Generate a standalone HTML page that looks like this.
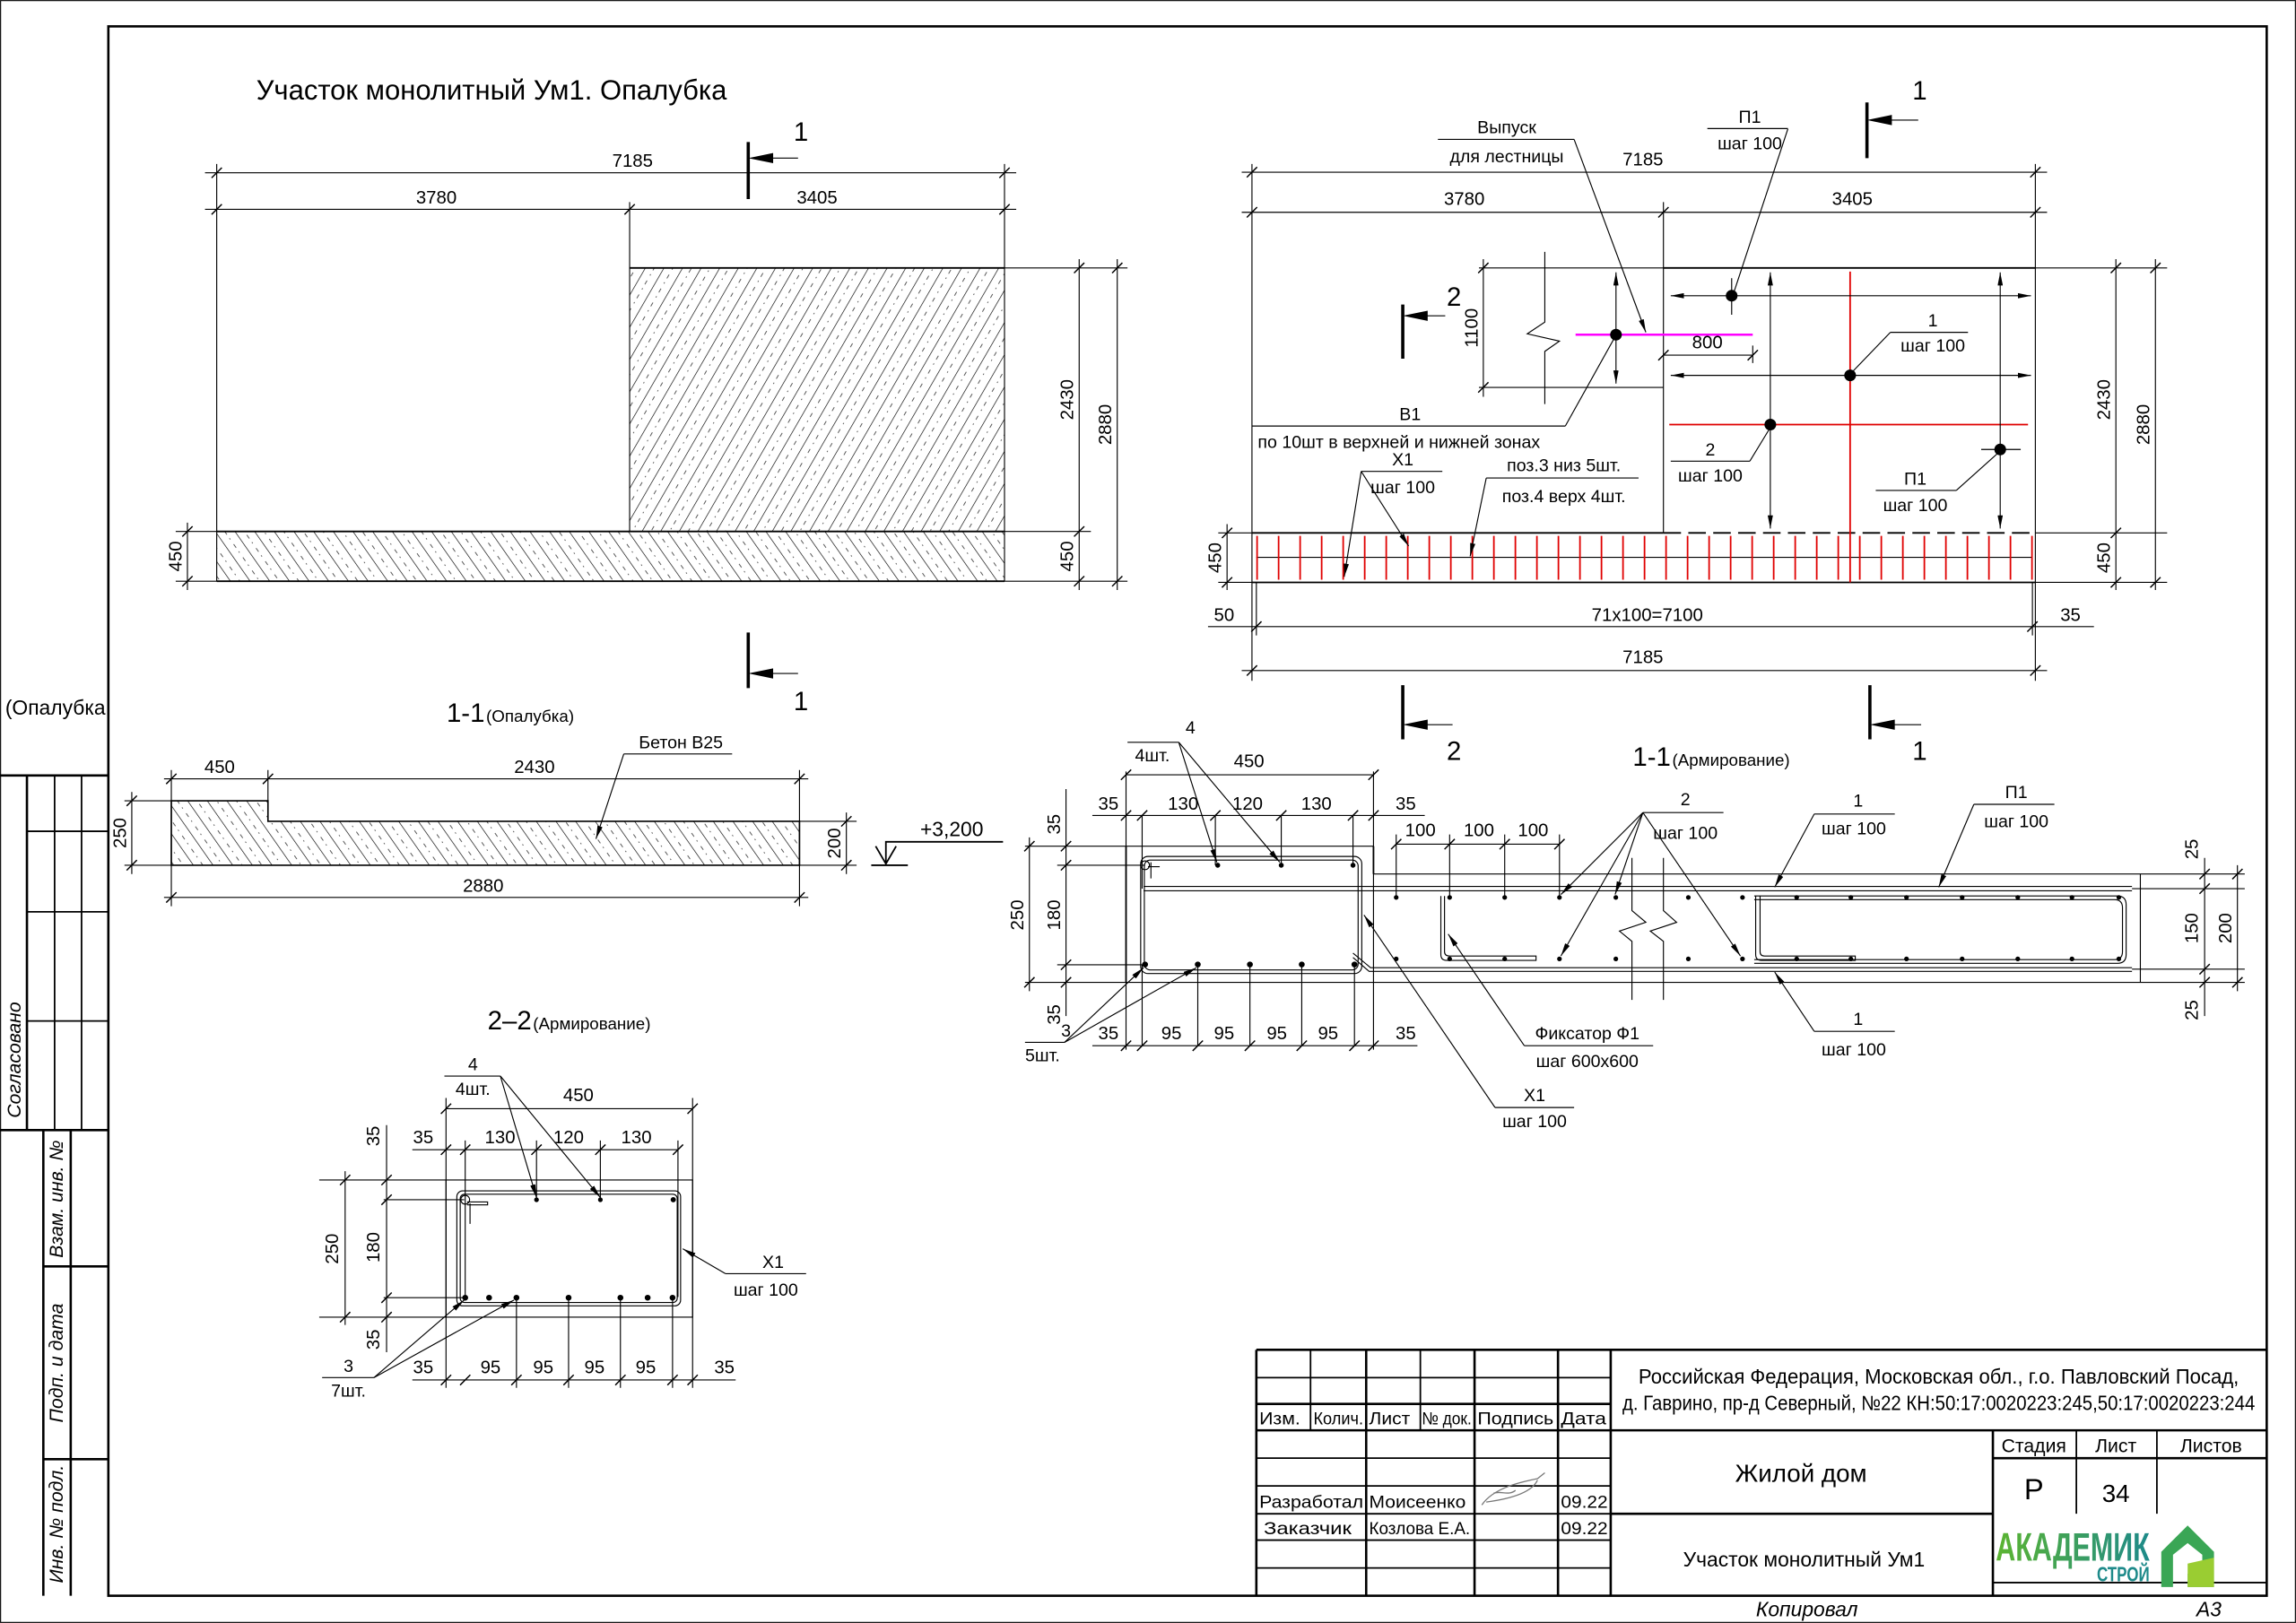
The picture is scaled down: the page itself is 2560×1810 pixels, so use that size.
<!DOCTYPE html>
<html><head><meta charset="utf-8"><style>
html,body{margin:0;padding:0;background:#fff}
svg{display:block}
text{font-family:"Liberation Sans Narrow","Liberation Sans",sans-serif;fill:#000}
.t{stroke:#000;stroke-width:0.7;fill:none}
.k{stroke:#000;stroke-width:1.6;fill:none}
.m{stroke:#000;stroke-width:1.1;fill:none}
.r{stroke:#e00000;stroke-width:1.1;fill:none}
.d{font-size:12.5px}
.s{font-size:12px}
</style></head><body>
<svg width="2560" height="1810" viewBox="0 0 1568 1108.6" xmlns="http://www.w3.org/2000/svg">
<defs>
<path id="tk" d="M-3.5,3.5L3.5,-3.5" stroke="#000" stroke-width="0.9"/>
<marker id="ar" viewBox="0 0 10 4" refX="10" refY="2" markerWidth="9" markerHeight="3.6" markerUnits="userSpaceOnUse" orient="auto"><path d="M0,0L10,2L0,4z" fill="#000"/></marker>
<pattern id="hA" patternUnits="userSpaceOnUse" width="11" height="11" patternTransform="rotate(30)"><path d="M0,0V11" stroke="#000" stroke-width="0.8"/><path d="M5.5,0V3M5.5,6V7" stroke="#000" stroke-width="0.4"/></pattern>
<pattern id="hB" patternUnits="userSpaceOnUse" width="11" height="11" patternTransform="rotate(-35)"><path d="M0,0V11" stroke="#000" stroke-width="0.8"/><path d="M5.5,0V3M5.5,6V7" stroke="#000" stroke-width="0.4"/></pattern>
<linearGradient id="lg" x1="0" x2="1"><stop offset="0" stop-color="#5cb531"/><stop offset="1" stop-color="#1e8a8a"/></linearGradient>
</defs>

<!-- frames -->
<rect x="0.4" y="0.4" width="1567.2" height="1107.8" class="t"/>
<rect x="74" y="18" width="1474" height="1072" class="k"/>

<!-- left stamps -->
<g>
<path class="k" d="M0,529.7H74M18.4,529.7V771.9M0,771.9H74M29.6,771.9V1090M48.3,771.9V1090M29.6,865H74M29.6,996.7H74"/>
<path class="m" d="M37.3,529.7V771.9M55.7,529.7V771.9M18.4,567.8H74M18.4,622.8H74M18.4,697.4H74"/>
<text x="72" y="488" font-size="14" text-anchor="end">1-1 (Опалубка</text>
<text transform="translate(14,724) rotate(-90)" text-anchor="middle" font-size="13" font-style="italic">Согласовано</text>
<text transform="translate(43,819) rotate(-90)" text-anchor="middle" font-size="13" font-style="italic">Взам. инв. №</text>
<text transform="translate(43,931) rotate(-90)" text-anchor="middle" font-size="13" font-style="italic">Подп. и дата</text>
<text transform="translate(43,1041) rotate(-90)" text-anchor="middle" font-size="13" font-style="italic">Инв. № подл.</text>
</g>

<!-- ===== left plan ===== -->
<text x="175" y="68" font-size="19">Участок монолитный Ум1. Опалубка</text>
<rect x="430" y="183" width="256" height="180" fill="url(#hA)"/>
<rect x="148" y="363" width="538" height="34" fill="url(#hB)"/>
<path class="t" d="M140,118H694M140,143H694M148,112V397M686,112V397M430,138V363M686,183H770M120,397H770M120,363H745M737,177V403M763,177V403M128,357V403"/>
<path class="m" d="M430,183H686M148,363H686M148,397H686"/>
<g>
<use href="#tk" x="148" y="118"/><use href="#tk" x="686" y="118"/>
<use href="#tk" x="148" y="143"/><use href="#tk" x="430" y="143"/><use href="#tk" x="686" y="143"/>
<use href="#tk" x="737" y="183"/><use href="#tk" x="737" y="363"/><use href="#tk" x="737" y="397"/>
<use href="#tk" x="763" y="183"/><use href="#tk" x="763" y="397"/>
<use href="#tk" x="128" y="363"/><use href="#tk" x="128" y="397"/>
</g>
<g class="d" text-anchor="middle">
<text x="432" y="114">7185</text><text x="298" y="139">3780</text><text x="558" y="139">3405</text>
</g>
<g class="d" text-anchor="middle">
<text transform="translate(733,273) rotate(-90)">2430</text>
<text transform="translate(759,290) rotate(-90)">2880</text>
<text transform="translate(733,380) rotate(-90)">450</text>
<text transform="translate(124,380) rotate(-90)">450</text>
</g>
<path d="M511,97V136M511,432V470" stroke="#000" stroke-width="2.2"/>
<path class="t" d="M526,108H545M526,460H545"/>
<path d="M511,108L528,104.5L528,111.5zM511,460L528,456.5L528,463.5z"/>
<text x="542" y="96" font-size="18">1</text><text x="542" y="485" font-size="18">1</text>

<!-- ===== section 1-1 opalubka ===== -->
<text x="305" y="493" font-size="18">1-1</text><text x="332" y="493" font-size="11.5">(Опалубка)</text>
<path d="M117,547H183V561H546V591H117Z" fill="url(#hB)" stroke="#000" stroke-width="1"/>
<path class="t" d="M85,547H117M85,591H117M112,532H552M112,613H552M117,526V619M183,526V547M546,526V619M546,561H585M546,591H585M90,541V597M578,555V597"/>
<g>
<use href="#tk" x="117" y="532"/><use href="#tk" x="183" y="532"/><use href="#tk" x="546" y="532"/>
<use href="#tk" x="117" y="613"/><use href="#tk" x="546" y="613"/>
<use href="#tk" x="90" y="547"/><use href="#tk" x="90" y="591"/>
<use href="#tk" x="578" y="561"/><use href="#tk" x="578" y="591"/>
</g>
<g class="d" text-anchor="middle">
<text x="150" y="528">450</text><text x="365" y="528">2430</text><text x="330" y="609">2880</text>
<text transform="translate(86,569) rotate(-90)">250</text>
<text transform="translate(574,576) rotate(-90)">200</text>
</g>
<path class="m" d="M595,591H620M598,578L605,590L612,578M605,590V575H685"/>
<text x="650" y="571" font-size="14" text-anchor="middle">+3,200</text>
<path class="t" d="M426,515H500"/><path class="t" d="M426,515L407,573" marker-end="url(#ar)"/>
<text x="465" y="511" class="s" text-anchor="middle">Бетон В25</text>

<!-- ===== section 2-2 ===== -->
<text x="333" y="703" font-size="18">2–2</text><text x="364" y="703" font-size="11.5">(Армирование)</text>
<rect x="304.6" y="806" width="168.4" height="93.7" class="t"/>
<rect x="312" y="813.4" width="152.8" height="78.6" rx="4" class="t"/>
<rect x="314.3" y="815.7" width="148.2" height="74" rx="3" class="t"/>
<g>
<circle cx="317.7" cy="819.5" r="3" class="t"/><path class="t" d="M319,821H333V823H319M321,822V836"/>
<circle cx="366.4" cy="819.5" r="1.6"/><circle cx="410" cy="819.5" r="1.6"/><circle cx="459.8" cy="819.5" r="1.8"/>
<circle cx="317.7" cy="886.4" r="2"/><circle cx="334" cy="886.4" r="2"/><circle cx="352.7" cy="886.4" r="2"/><circle cx="388.3" cy="886.4" r="2"/><circle cx="423.7" cy="886.4" r="2"/><circle cx="442.3" cy="886.4" r="2"/><circle cx="459.3" cy="886.4" r="2"/>
</g>
<path class="t" d="M304.6,757.3H473M304.6,750V948M473,750V948M281.6,785.3H463M281.6,942.6H502.4M317.7,779V886M366.4,779V819M410,779V819M463,779V886M352.7,886V948M388.3,886V948M423.7,886V948M459.3,886V948M218,806H304.6M218,899.7H304.6M262,819.5H317M262,886.4H317M235.7,800V905M264,768.5V923.6"/>
<g>
<use href="#tk" x="304.6" y="757.3"/><use href="#tk" x="473" y="757.3"/>
<use href="#tk" x="304.6" y="785.3"/><use href="#tk" x="317.7" y="785.3"/><use href="#tk" x="366.4" y="785.3"/><use href="#tk" x="410" y="785.3"/><use href="#tk" x="463" y="785.3"/>
<use href="#tk" x="304.6" y="942.6"/><use href="#tk" x="317.7" y="942.6"/><use href="#tk" x="352.7" y="942.6"/><use href="#tk" x="388.3" y="942.6"/><use href="#tk" x="423.7" y="942.6"/><use href="#tk" x="459.3" y="942.6"/><use href="#tk" x="473" y="942.6"/>
<use href="#tk" x="235.7" y="806"/><use href="#tk" x="235.7" y="899.7"/>
<use href="#tk" x="264" y="806"/><use href="#tk" x="264" y="819.5"/><use href="#tk" x="264" y="886.4"/><use href="#tk" x="264" y="899.7"/>
</g>
<g class="d" text-anchor="middle">
<text x="395" y="752">450</text>
<text x="289" y="781">35</text><text x="341.5" y="781">130</text><text x="388.3" y="781">120</text><text x="434.6" y="781">130</text>
<text x="289" y="938">35</text><text x="335" y="938">95</text><text x="371" y="938">95</text><text x="406" y="938">95</text><text x="441" y="938">95</text><text x="494.7" y="938">35</text>
<text transform="translate(231,853) rotate(-90)">250</text>
<text transform="translate(259,776) rotate(-90)">35</text>
<text transform="translate(259,852) rotate(-90)">180</text>
<text transform="translate(259,915) rotate(-90)">35</text>
</g>
<path class="t" d="M303.5,735H341.7M220,941H255.4M495.4,870H550.5"/>
<path class="t" d="M341.7,735L366.4,818" marker-end="url(#ar)"/>
<path class="t" d="M341.7,735L410,818" marker-end="url(#ar)"/>
<path class="t" d="M255.4,941L317,888" marker-end="url(#ar)"/>
<path class="t" d="M255.4,941L351,888" marker-end="url(#ar)"/>
<path class="t" d="M495.4,870L466.3,853" marker-end="url(#ar)"/>
<g class="s" text-anchor="middle">
<text x="323" y="731">4</text><text x="323" y="748">4шт.</text>
<text x="238" y="937">3</text><text x="238" y="954">7шт.</text>
<text x="528" y="866">Х1</text><text x="523" y="885">шаг 100</text>
</g>

<!-- ===== right plan (reinforcement) ===== -->
<path class="t" d="M848,117.6H1398M848,145H1398M855,112V465M1390,112V465M1136,138V364M1010,183H1480M1010,264.6H1136M1390,364H1480M1390,397.8H1480M832,364H855M832,397.8H855M1013,177V271M1445,177V403M1472,177V403M838,358V403M858,397.8V434M1388,397.8V434M825,428H1430M848,458H1398"/>
<path class="m" d="M855,364H1136M855,397.8H1390M1136,183H1390"/>
<path class="m" d="M1136,364H1390" stroke-dasharray="12,5"/>
<path class="t" d="M858,380.7H1388" stroke-width="1"/>
<g>
<use href="#tk" x="855" y="117.6"/><use href="#tk" x="1390" y="117.6"/>
<use href="#tk" x="855" y="145"/><use href="#tk" x="1136" y="145"/><use href="#tk" x="1390" y="145"/>
<use href="#tk" x="1013" y="183"/><use href="#tk" x="1013" y="264.6"/>
<use href="#tk" x="1445" y="183"/><use href="#tk" x="1445" y="364"/><use href="#tk" x="1445" y="397.8"/>
<use href="#tk" x="1472" y="183"/><use href="#tk" x="1472" y="397.8"/>
<use href="#tk" x="838" y="364"/><use href="#tk" x="838" y="397.8"/>
<use href="#tk" x="858" y="428"/><use href="#tk" x="1388" y="428"/>
<use href="#tk" x="855" y="458"/><use href="#tk" x="1390" y="458"/>
<use href="#tk" x="1136" y="242.6"/><use href="#tk" x="1197" y="242.6"/>
</g>
<g class="d" text-anchor="middle">
<text x="1122" y="113">7185</text><text x="1000" y="140">3780</text><text x="1265" y="140">3405</text>
<text transform="translate(1009,224) rotate(-90)">1100</text>
<text transform="translate(1441,273) rotate(-90)">2430</text>
<text transform="translate(1468,290) rotate(-90)">2880</text>
<text transform="translate(1441,381) rotate(-90)">450</text>
<text transform="translate(834,381) rotate(-90)">450</text>
<text x="1125" y="424">71x100=7100</text><text x="836" y="424">50</text><text x="1414" y="424">35</text>
<text x="1122" y="453">7185</text>
<text x="1166" y="238">800</text>
</g>
<path class="t" d="M1136,242.6H1197"/>
<!-- red bars in strip -->
<g class="r">
<path d="M858.5,366V396M873.2,366V396M887.9,366V396M902.6,366V396M917.3,366V396M932,366V396M946.7,366V396M961.4,366V396M976.1,366V396M990.8,366V396M1005.5,366V396M1020.2,366V396M1034.9,366V396M1049.6,366V396M1064.3,366V396M1079,366V396M1093.7,366V396M1108.4,366V396M1123.1,366V396M1137.8,366V396M1152.5,366V396M1167.2,366V396M1181.9,366V396M1196.6,366V396M1211.3,366V396M1226,366V396M1240.7,366V396M1255.4,366V396M1270.1,366V396M1284.8,366V396M1299.5,366V396M1314.2,366V396M1328.9,366V396M1343.6,366V396M1358.3,366V396M1373,366V396M1387.7,366V396"/>
<path d="M1263.5,185.5V397.8M1140,290H1385"/>
</g>
<path d="M1076,228.6H1197" stroke="#ff00ff" stroke-width="1.6"/>
<path class="t" d="M1055,172V220L1043,228L1065,233L1055,240V276"/>
<g class="t">
<path d="M1103.6,228V186" marker-end="url(#ar)"/><path d="M1103.6,228V262" marker-end="url(#ar)"/>
<path d="M1182,202H1141" marker-end="url(#ar)"/><path d="M1182,202H1387" marker-end="url(#ar)"/>
<path d="M1263,256.4H1141" marker-end="url(#ar)"/><path d="M1263,256.4H1387" marker-end="url(#ar)"/>
<path d="M1209,290V186" marker-end="url(#ar)"/><path d="M1209,290V361" marker-end="url(#ar)"/>
<path d="M1366,307V186" marker-end="url(#ar)"/><path d="M1366,307V361" marker-end="url(#ar)"/>
<path d="M1182.6,190V215M1353,307H1380M1197,236V248"/>
</g>
<g><circle cx="1103.6" cy="228.6" r="4"/><circle cx="1182.6" cy="202" r="4"/><circle cx="1263.5" cy="256.4" r="4"/><circle cx="1209" cy="290" r="4"/><circle cx="1366" cy="307" r="4"/></g>
<path d="M958,208V245M1275,70V108M958,468V505M1277,468V505" stroke="#000" stroke-width="2.2"/>
<path class="t" d="M973,215.7H987M1290,82H1310M973,495H992M1292,495H1312"/>
<path d="M958,215.7L975,212.2L975,219.2zM1275,82L1292,78.5L1292,85.5zM958,495L975,491.5L975,498.5zM1277,495L1294,491.5L1294,498.5z"/>
<text x="988" y="209" font-size="18">2</text><text x="1306" y="68" font-size="18">1</text>
<text x="988" y="519" font-size="18">2</text><text x="1306" y="519" font-size="18">1</text>
<!-- leaders right plan -->
<path class="t" d="M982,95.2H1075M1166,87.8H1221M1291,227H1344M1141,315H1195M1281,335H1336M855,291H1069M929.6,322H985M1015,326.5H1119"/>
<path class="t" d="M1075,95.2L1124,227" marker-end="url(#ar)"/>
<path class="t" d="M1221,88L1184,200"/>
<path class="t" d="M1291,227L1265,254"/>
<path class="t" d="M1195,315L1209,292"/>
<path class="t" d="M1336,335L1365,309"/>
<path class="t" d="M1069,291L1103,230"/>
<path class="t" d="M929.6,322L918,394" marker-end="url(#ar)"/>
<path class="t" d="M929.6,322L962,373" marker-end="url(#ar)"/>
<path class="t" d="M1015,326.5L1004,380" marker-end="url(#ar)"/>
<g class="s" text-anchor="middle">
<text x="1029" y="91">Выпуск</text><text x="1029" y="111">для лестницы</text>
<text x="1195" y="84">П1</text><text x="1195" y="102">шаг 100</text>
<text x="1320" y="223">1</text><text x="1320" y="240">шаг 100</text>
<text x="1168" y="311">2</text><text x="1168" y="329">шаг 100</text>
<text x="1308" y="331">П1</text><text x="1308" y="349">шаг 100</text>
<text x="963" y="287">В1</text>
<text x="958" y="318">Х1</text><text x="958" y="337">шаг 100</text>
<text x="1068" y="322">поз.3 низ 5шт.</text><text x="1068" y="343">поз.4 верх 4шт.</text>
</g>
<text x="859" y="306" class="s">по 10шт в верхней и нижней зонах</text>

<!-- ===== section 1-1 armirovanie ===== -->
<text x="1115" y="523" font-size="18">1-1</text><text x="1142" y="523" font-size="11.5">(Армирование)</text>
<path class="t" d="M700,578H938M700,671H1533M938,597H1533M938,578V597M1461.7,597V671M769,527V717M938,527V717M722,591H782M722,659H782M1456,607H1533M1456,662H1533"/>
<path class="m" d="M769,578V671M938,578V597"/>
<rect x="779" y="585" width="151" height="80" rx="5" class="t"/>
<rect x="781.5" y="587.5" width="146" height="75" rx="4" class="t"/>
<path class="t" d="M781,605.5H1456M781,608.5H1456"/>
<path class="t" d="M1198,612H1446Q1452,612 1452,618V652Q1452,658 1446,658H1198M1198,614.5H1444Q1449.5,614.5 1449.5,620V650Q1449.5,655.5 1444,655.5H1198"/>
<path class="t" d="M924,651L936,661H1456M924,654L935,663.5H1456"/>
<path class="t" d="M986.5,612V650Q986.5,653 990,653H1049V656H988Q984,656 984,652V612M1202,612V650Q1202,653 1205,653H1267V656H1203Q1199,656 1199,652V612"/>
<path class="t" d="M1114.5,586V622L1124,630L1106,636L1114.5,643V683M1136,586V622L1145,630L1127,636L1136,643V683"/>
<g>
<circle cx="953.5" cy="613" r="1.6"/><circle cx="990" cy="613" r="1.6"/><circle cx="1027.6" cy="613" r="1.6"/><circle cx="1065" cy="613" r="1.6"/><circle cx="1103.5" cy="613" r="1.6"/><circle cx="1153" cy="613" r="1.6"/><circle cx="1190" cy="613" r="1.6"/><circle cx="1227" cy="613" r="1.6"/><circle cx="1264" cy="613" r="1.6"/><circle cx="1302" cy="613" r="1.6"/><circle cx="1340" cy="613" r="1.6"/><circle cx="1378" cy="613" r="1.6"/><circle cx="1415" cy="613" r="1.6"/><circle cx="1447" cy="613" r="1.6"/>
<circle cx="953.5" cy="655" r="1.6"/><circle cx="990" cy="655" r="1.6"/><circle cx="1027.6" cy="655" r="1.6"/><circle cx="1065" cy="655" r="1.6"/><circle cx="1103.5" cy="655" r="1.6"/><circle cx="1153" cy="655" r="1.6"/><circle cx="1190" cy="655" r="1.6"/><circle cx="1227" cy="655" r="1.6"/><circle cx="1264" cy="655" r="1.6"/><circle cx="1302" cy="655" r="1.6"/><circle cx="1340" cy="655" r="1.6"/><circle cx="1378" cy="655" r="1.6"/><circle cx="1415" cy="655" r="1.6"/><circle cx="1447" cy="655" r="1.6"/>
<circle cx="782" cy="591" r="3" class="t"/><path class="t" d="M784,592H792M786,589V600"/>
<circle cx="831.6" cy="591" r="1.7"/><circle cx="875" cy="591" r="1.7"/><circle cx="924" cy="591" r="1.7"/>
<circle cx="782" cy="658.8" r="2"/><circle cx="818" cy="658.8" r="2"/><circle cx="853.6" cy="658.8" r="2"/><circle cx="889" cy="658.8" r="2"/><circle cx="925" cy="658.8" r="2"/>
</g>
<path class="t" d="M769,529.2H938M746,557H973M953.5,576.6H1065M746,714.3H968M780,557V607M830,557V591M875,557V591M924,557V591M953.5,570V613M990,570V613M1027.6,570V613M1065,570V613M780,659V714M818,659V714M853.6,659V714M889,659V714M925,659V714M728,539V694M703,572V677M1505.6,586V694M1528,591V677"/>
<g>
<use href="#tk" x="769" y="529.2"/><use href="#tk" x="938" y="529.2"/>
<use href="#tk" x="769" y="557"/><use href="#tk" x="780" y="557"/><use href="#tk" x="830" y="557"/><use href="#tk" x="875" y="557"/><use href="#tk" x="924" y="557"/><use href="#tk" x="938" y="557"/>
<use href="#tk" x="953.5" y="576.6"/><use href="#tk" x="990" y="576.6"/><use href="#tk" x="1027.6" y="576.6"/><use href="#tk" x="1065" y="576.6"/>
<use href="#tk" x="769" y="714.3"/><use href="#tk" x="780" y="714.3"/><use href="#tk" x="818" y="714.3"/><use href="#tk" x="853.6" y="714.3"/><use href="#tk" x="889" y="714.3"/><use href="#tk" x="925" y="714.3"/><use href="#tk" x="938" y="714.3"/>
<use href="#tk" x="728" y="578"/><use href="#tk" x="728" y="591"/><use href="#tk" x="728" y="659"/><use href="#tk" x="728" y="671"/>
<use href="#tk" x="703" y="578"/><use href="#tk" x="703" y="671"/>
<use href="#tk" x="1505.6" y="597"/><use href="#tk" x="1505.6" y="607"/><use href="#tk" x="1505.6" y="662"/><use href="#tk" x="1505.6" y="671"/>
<use href="#tk" x="1528" y="597"/><use href="#tk" x="1528" y="671"/>
</g>
<g class="d" text-anchor="middle">
<text x="853" y="524">450</text>
<text x="757" y="553">35</text><text x="808" y="553">130</text><text x="852" y="553">120</text><text x="899" y="553">130</text><text x="960" y="553">35</text>
<text x="970" y="571">100</text><text x="1010" y="571">100</text><text x="1047" y="571">100</text>
<text x="757" y="710">35</text><text x="800" y="710">95</text><text x="836" y="710">95</text><text x="872" y="710">95</text><text x="907" y="710">95</text><text x="960" y="710">35</text>
<text transform="translate(724,563) rotate(-90)">35</text>
<text transform="translate(724,625) rotate(-90)">180</text>
<text transform="translate(724,693) rotate(-90)">35</text>
<text transform="translate(699,625) rotate(-90)">250</text>
<text transform="translate(1501,580) rotate(-90)">25</text>
<text transform="translate(1501,634) rotate(-90)">150</text>
<text transform="translate(1501,690) rotate(-90)">25</text>
<text transform="translate(1524,634) rotate(-90)">200</text>
</g>
<path class="t" d="M770,507H805M700,712H727M1122,555H1177M1239,556H1294M1348,549.4H1403M1239,704.5H1294M1041,714.3H1129M1021,756.5H1075"/>
<path class="t" d="M805,507L831,589" marker-end="url(#ar)"/>
<path class="t" d="M805,507L874,589" marker-end="url(#ar)"/>
<path class="t" d="M727,712L781,661" marker-end="url(#ar)"/>
<path class="t" d="M727,712L817,661" marker-end="url(#ar)"/>
<path class="t" d="M1122,555L1066,611" marker-end="url(#ar)"/>
<path class="t" d="M1122,555L1103,611" marker-end="url(#ar)"/>
<path class="t" d="M1122,555L1066,653" marker-end="url(#ar)"/>
<path class="t" d="M1122,555L1188.6,653" marker-end="url(#ar)"/>
<path class="t" d="M1239,556L1212,606" marker-end="url(#ar)"/>
<path class="t" d="M1348,549.4L1324,606" marker-end="url(#ar)"/>
<path class="t" d="M1239,704.5L1212,664" marker-end="url(#ar)"/>
<path class="t" d="M1041,714.3L989,638" marker-end="url(#ar)"/>
<path class="t" d="M1021,756.5L931.5,625" marker-end="url(#ar)"/>
<g class="s" text-anchor="middle">
<text x="813" y="501">4</text><text x="787" y="520">4шт.</text>
<text x="728" y="708">3</text><text x="712" y="725">5шт.</text>
<text x="1151" y="550">2</text><text x="1151" y="573">шаг 100</text>
<text x="1269" y="551">1</text><text x="1266" y="570">шаг 100</text>
<text x="1377" y="545">П1</text><text x="1377" y="565">шаг 100</text>
<text x="1269" y="700">1</text><text x="1266" y="721">шаг 100</text>
<text x="1084" y="710">Фиксатор Ф1</text><text x="1084" y="729">шаг 600x600</text>
<text x="1048" y="752">Х1</text><text x="1048" y="770">шаг 100</text>
</g>

<!-- ===== title block ===== -->
<g>
<path class="k" d="M858,922H1548M858,922V1090M1100,922V1090M858,959H1100M858,977H1548M1100,1034H1361M1361,977V1090M1361,996H1548M933,922V1090M1007,922V1090M1064,922V1090"/>
<path class="m" d="M895,922V977M970,922V977M1418,977V1034M1473,977V1034M858,941H1100M858,996H1100M858,1015H1100M858,1034H1100M858,1052H1100M858,1071H1100M1361,1081H1548"/>
<g font-size="12">
<text x="860" y="973" textLength="28" lengthAdjust="spacingAndGlyphs">Изм.</text>
<text x="897" y="973" textLength="34" lengthAdjust="spacingAndGlyphs">Колич.</text>
<text x="935" y="973" textLength="28" lengthAdjust="spacingAndGlyphs">Лист</text>
<text x="971" y="973" textLength="34" lengthAdjust="spacingAndGlyphs">№ док.</text>
<text x="1009" y="973" textLength="52" lengthAdjust="spacingAndGlyphs">Подпись</text>
<text x="1066" y="973" textLength="31" lengthAdjust="spacingAndGlyphs">Дата</text>
<text x="860" y="1030" textLength="71" lengthAdjust="spacingAndGlyphs">Разработал</text>
<text x="935" y="1030" textLength="66" lengthAdjust="spacingAndGlyphs">Моисеенко</text>
<text x="1066" y="1030" textLength="32" lengthAdjust="spacingAndGlyphs">09.22</text>
<text x="863" y="1048" textLength="60" lengthAdjust="spacingAndGlyphs">Заказчик</text>
<text x="935" y="1048" textLength="69" lengthAdjust="spacingAndGlyphs">Козлова Е.А.</text>
<text x="1066" y="1048" textLength="32" lengthAdjust="spacingAndGlyphs">09.22</text>
</g>
<path d="M1012,1028C1020,1016 1040,1012 1050,1010L1055,1006M1015,1026C1030,1024 1046,1020 1050,1011M1020,1020C1025,1018 1030,1022 1035,1018" stroke="#777" stroke-width="0.8" fill="none"/>
<g text-anchor="middle">
<text x="1324" y="945" font-size="14" textLength="410" lengthAdjust="spacingAndGlyphs">Российская Федерация, Московская обл., г.о. Павловский Посад,</text>
<text x="1324" y="963" font-size="14" textLength="432" lengthAdjust="spacingAndGlyphs">д. Гаврино, пр-д Северный, №22 КН:50:17:0020223:245,50:17:0020223:244</text>
<text x="1230" y="1012" font-size="17">Жилой дом</text>
<text x="1232" y="1070" font-size="14">Участок монолитный Ум1</text>
<text x="1389" y="992" font-size="13">Стадия</text><text x="1445" y="992" font-size="13">Лист</text><text x="1510" y="992" font-size="13">Листов</text>
<text x="1389" y="1024" font-size="20">Р</text><text x="1445" y="1026" font-size="17">34</text>
</g>
<text x="1363" y="1066" font-size="27" font-weight="bold" style="fill:url(#lg)" textLength="105" lengthAdjust="spacingAndGlyphs">АКАДЕМИК</text>
<text x="1432" y="1080" font-size="14" font-weight="bold" style="fill:#1e8a8a" textLength="36" lengthAdjust="spacingAndGlyphs">СТРОЙ</text>
<path d="M1476,1060L1494,1042L1512,1060V1084H1494V1075L1504,1072V1062L1494,1054L1484,1062V1084H1476Z" fill="#3aa655"/>
<path d="M1494,1068L1512,1064V1084H1494Z" fill="#9acd32"/>
<text x="1234" y="1104" font-size="14" font-style="italic" text-anchor="middle">Копировал</text>
<text x="1500" y="1104" font-size="14" font-style="italic">А3</text>
</g>
</svg>
</body></html>
